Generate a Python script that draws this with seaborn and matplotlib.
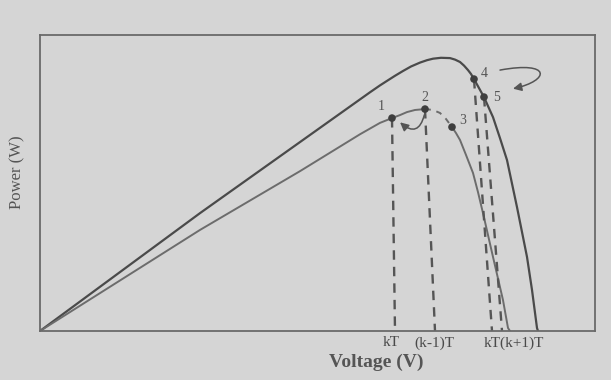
import numpy as np
import pandas as pd
import seaborn as sns
import matplotlib.pyplot as plt
from matplotlib.patches import FancyArrowPatch
from matplotlib.path import Path

# P-V characteristic at the higher irradiance level
upper_v = [0.0, 16.0, 26.0, 33.0, 34.0, 34.7, 35.5, 36.3, 37.1, 38.0, 38.7,
           39.3, 40.1, 41.0, 41.5, 42.0, 42.4, 42.8, 43.1, 43.4, 43.9, 44.4,
           44.8, 45.3, 46.0, 46.7, 47.7, 48.7, 49.2, 49.7, 49.8]
upper_p = [0.0, 39.3, 63.0, 79.6, 81.9, 83.4, 85.1, 86.7, 88.2, 89.5, 90.3,
           90.8, 91.1, 91.0, 90.5, 89.7, 88.5, 87.0, 85.7, 84.0, 81.0, 78.0,
           75.0, 71.3, 64.3, 57.0, 41.3, 24.7, 13.7, 1.0, 0.0]

# P-V characteristic at the lower irradiance level
lower_v = [0.0, 16.0, 26.0, 32.0, 33.0, 34.0, 35.2, 36.0, 36.7, 37.5, 38.5,
           39.3, 40.0, 40.6, 41.2, 41.6, 42.0, 42.6, 43.3, 43.8, 44.3, 45.3,
           46.3, 46.8, 47.0]
lower_p = [0.0, 33.7, 53.3, 65.6, 67.5, 69.4, 71.0, 72.0, 73.0, 73.7, 74.0,
           73.7, 72.7, 70.7, 68.0, 66.0, 63.7, 58.7, 52.7, 46.3, 39.3, 24.7,
           10.3, 1.0, 0.0]

# operating points visited by the tracker
point_labels = ["1", "2", "3", "4", "5"]
point_v = [35.2, 38.5, 41.2, 43.4, 44.4]
point_p = [71.0, 74.0, 68.0, 84.0, 78.0]

# sampling instants marked on the voltage axis
sample_points = [0, 1, 3, 4]
sample_foot_v = [35.5, 39.5, 45.2, 46.2]
tick_texts = ["kT", "(k-1)T", "kT(k+1)T"]
tick_v = [35.1, 39.4, 47.4]

sns.set_theme(style="white")
plt.rcParams["font.family"] = ["Liberation Serif", "DejaVu Serif"]

bg = "#d5d5d5"
fig = plt.figure(figsize=(6.11, 3.80), dpi=100, facecolor=bg)
ax = fig.add_axes([40 / 611, 49 / 380, 555 / 611, 296 / 380])
ax.set_facecolor(bg)
ax.set_xlim(0, 55.5)
ax.set_ylim(0, 98.7)

upper = pd.DataFrame({"voltage": upper_v, "power": upper_p})
lower = pd.DataFrame({"voltage": lower_v, "power": lower_p})

sns.lineplot(data=upper, x="voltage", y="power", sort=False, ax=ax,
             color="#4a4a4a", linewidth=1.6)

i2 = lower_v.index(point_v[1])
i3 = lower_v.index(point_v[2])
sns.lineplot(data=lower.iloc[:i2 + 1], x="voltage", y="power", sort=False,
             ax=ax, color="#6c6c6c", linewidth=1.4)
sns.lineplot(data=lower.iloc[i2:i3 + 1], x="voltage", y="power", sort=False,
             ax=ax, color="#6c6c6c", linewidth=1.4, linestyle=(0, (3, 3)))
sns.lineplot(data=lower.iloc[i3:], x="voltage", y="power", sort=False,
             ax=ax, color="#6c6c6c", linewidth=1.4)

# dashed drops from the sampled operating points to the voltage axis
for k, foot in zip(sample_points, sample_foot_v):
    ax.plot([point_v[k], foot], [point_p[k], 0], color="#555555",
            linewidth=1.7, dashes=(4, 3), zorder=2)

sns.scatterplot(x=point_v, y=point_p, ax=ax, color="#3e3e3e", s=30,
                edgecolor="none", zorder=5)

label_offsets = [(-1.1, 3.7), (0.0, 4.0), (1.1, 2.3), (1.0, 1.7), (1.3, 0.0)]
for lab, v, p, (dv, dp) in zip(point_labels, point_v, point_p, label_offsets):
    ax.text(v + dv, p + dp, lab, fontsize=10, color="#555555",
            ha="center", va="center")

# search moves: 2 -> back to 1, and 4 -> on to 5
ax.add_patch(FancyArrowPatch((point_v[1], point_p[1] - 1.0),
                             (point_v[0] + 0.6, point_p[0] - 0.8),
                             connectionstyle="arc3,rad=-0.9",
                             arrowstyle="-|>,head_length=5,head_width=2.5",
                             color="#555555", linewidth=1.1, zorder=4))
loop = Path([(46.0, 87.0), (51.2, 90.2), (51.0, 83.5), (47.3, 80.8)],
            [Path.MOVETO, Path.CURVE4, Path.CURVE4, Path.CURVE4])
ax.add_patch(FancyArrowPatch(path=loop,
                             arrowstyle="-|>,head_length=5,head_width=2.5",
                             color="#555555", linewidth=1.1, zorder=4))

for txt, v in zip(tick_texts, tick_v):
    ax.text(v, -4.0, txt, fontsize=11, color="#4a4a4a", ha="center",
            va="center", clip_on=False)

ax.set_xticks([])
ax.set_yticks([])
ax.set_xlabel("")
ax.set_ylabel("")
for s in ax.spines.values():
    s.set_visible(True)
    s.set_color("#6a6a6a")
    s.set_linewidth(1.3)

fig.text(376 / 611, 1 - 362 / 380, "Voltage (V)", fontsize=14,
         fontweight="bold", color="#555555", ha="center", va="center")
fig.text(17 / 611, 1 - 172 / 380, "Power (W)", fontsize=12, rotation=90,
         color="#555555", ha="center", va="center")

fig.savefig("out.png", dpi=100, facecolor=bg)
